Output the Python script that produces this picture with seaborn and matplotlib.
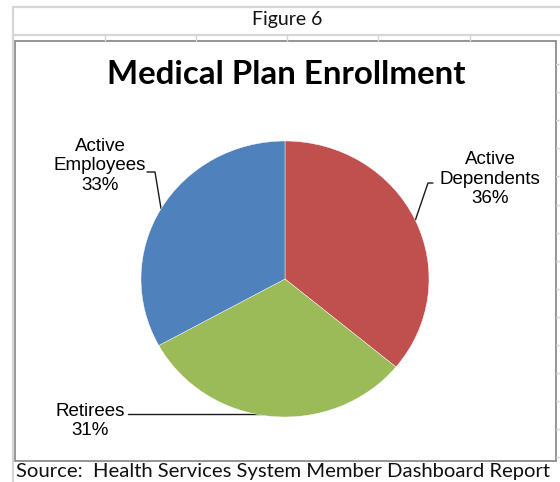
import numpy as np
import matplotlib
matplotlib.use("Agg")
import matplotlib.pyplot as plt
import seaborn as sns

# Enrollment shares (percent)
categories = ["Active Dependents", "Retirees", "Active Employees"]
shares = [36, 31, 33]
slice_colors = ["#C0504D", "#9BBB59", "#4F81BD"]

title_text = "Medical Plan Enrollment"
figure_caption = "Figure 6"
source_text = "Source:  Health Services System Member Dashboard Report"

sns.set_theme(style="white")
palette = sns.color_palette(slice_colors)

W, H = 560, 482
fig = plt.figure(figsize=(W / 100, H / 100), dpi=100)
fig.patch.set_facecolor("white")

# Overlay in pixel coordinates for the sheet grid, frame and text
bg = fig.add_axes([0, 0, 1, 1])
bg.set_xlim(0, W)
bg.set_ylim(H, 0)
bg.axis("off")

grid_c = "#D6D6D6"
bg.plot([13, 560], [7, 7], color=grid_c, lw=1.6)
bg.plot([13, 560], [35, 35], color=grid_c, lw=1.6)
bg.plot([13, 13], [7, 482], color=grid_c, lw=1.6)
for x in [105, 196, 287, 378, 470]:
    bg.plot([x, x], [35, 41], color=grid_c, lw=1)
for k in range(15):
    y = 64 + 28.1 * k
    bg.plot([556, 560], [y, y], color=grid_c, lw=1)

bg.add_patch(plt.Rectangle((15, 41), 541, 420, facecolor="white",
                           edgecolor="#8C8C8C", lw=1.3))

bg.text(287, 20, figure_caption, ha="center", va="center",
        fontsize=14, family="Lato", color="#111111")
bg.text(286, 75, title_text, ha="center", va="center",
        fontsize=23.8, family="Lato", fontweight="bold", color="black")
bg.text(16, 472, source_text, ha="left", va="center",
        fontsize=14.6, family="Lato", color="#111111")

# Pie
cx, cy, rx, ry = 285, 279, 144, 138
pie_ax = fig.add_axes([(cx - rx) / W, (H - cy - ry) / H, 2 * rx / W, 2 * ry / H])
wedges, _ = pie_ax.pie(shares, colors=palette, startangle=90, counterclock=False,
                       wedgeprops=dict(edgecolor="white", linewidth=0.3))
pie_ax.set_aspect("auto")
pie_ax.set_xlim(-1, 1)
pie_ax.set_ylim(-1, 1)
pie_ax.axis("off")


def edge_point(w):
    mid = np.deg2rad((w.theta1 + w.theta2) / 2)
    disp = pie_ax.transData.transform((np.cos(mid), np.sin(mid)))
    return bg.transData.inverted().transform(disp)


label_font = dict(fontsize=13.5, family="Liberation Sans", color="black",
                  ha="center", va="center", linespacing=1.22)
line_kw = dict(color="#1A1A1A", lw=1)

# Active Dependents
ex, ey = edge_point(wedges[0])
bg.text(490, 179, f"Active\nDependents\n{shares[0]}%", **label_font)
bg.plot([433, 428, ex], [183, 183, ey], **line_kw)

# Retirees
ex, ey = edge_point(wedges[1])
bg.text(90, 421, f"Retirees\n{shares[1]}%", **label_font)
bg.plot([128, ex], [ey - 2, ey - 2], **line_kw)

# Active Employees
ex, ey = edge_point(wedges[2])
bg.text(100, 166, f"Active\nEmployees\n{shares[2]}%", **label_font)
bg.plot([147, 155, ex], [172, 172, ey], **line_kw)

fig.savefig("out.png", dpi=100, facecolor="white")
